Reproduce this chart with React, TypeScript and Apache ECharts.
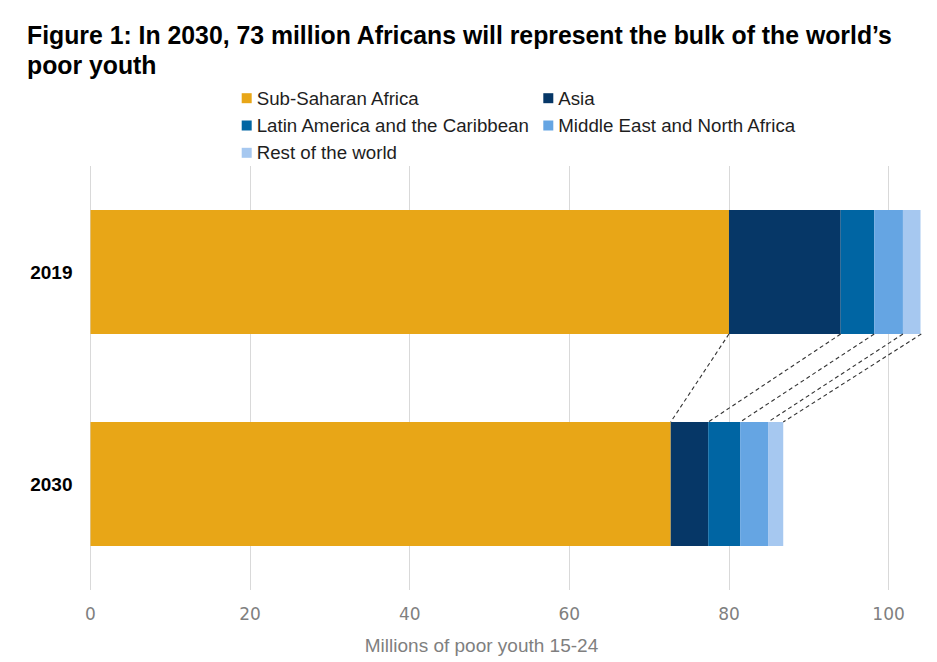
import React, { useEffect, useRef } from "react";
import * as echarts from "echarts";

const categories = ["2019", "2030"];
const seriesNames = [
  "Sub-Saharan Africa",
  "Asia",
  "Latin America and the Caribbean",
  "Middle East and North Africa",
  "Rest of the world",
];
const subSaharanAfrica = [80.0, 72.7];
const asia = [14.0, 4.7];
const latinAmerica = [4.2, 4.0];
const middleEast = [3.6, 3.5];
const restOfWorld = [2.3, 1.9];
const xTicks = [0, 20, 40, 60, 80, 100];
const colors = ["#E8A617", "#063767", "#0065A3", "#65A5E3", "#A6C8F0"];

const titleLines = [
  "Figure 1: In 2030, 73 million Africans will represent the bulk of the world\u2019s",
  "poor youth",
];
const axisTitle = "Millions of poor youth 15-24";

const BAR_H = 124;
const SANS = "'Liberation Sans', Arial, sans-serif";
const TITLE_FONT = `bold 26.5px ${SANS}`;

function measure(text: string, font: string): number {
  const c = document.createElement("canvas");
  const ctx = c.getContext("2d");
  if (!ctx) return text.length * 13;
  ctx.font = font;
  return ctx.measureText(text).width;
}

export default function App() {
  const ref = useRef<HTMLDivElement>(null);
  useEffect(() => {
    if (!ref.current) return;
    const chart = echarts.init(ref.current, null, { renderer: "svg" });
    const all = [subSaharanAfrica, asia, latinAmerica, middleEast, restOfWorld];
    const connectors: number[][] = [];
    let c0 = 0;
    let c1 = 0;
    all.forEach((arr) => {
      c0 += arr[0];
      c1 += arr[1];
      connectors.push([c0, c1, 0]);
    });

    const w = measure(titleLines[0], TITLE_FONT);
    const sx = Math.min(1, 866 / w);

    const legendText = { fontFamily: SANS, fontSize: 18.7, color: "#1e1e1e", lineHeight: 16 };

    chart.setOption({
      animation: false,
      backgroundColor: "#ffffff",
      legend: [
        {
          left: 241.7,
          top: 88.7,
          padding: 0,
          orient: "vertical",
          data: [seriesNames[0], seriesNames[2], seriesNames[4]],
          icon: "rect",
          itemWidth: 10,
          itemHeight: 10,
          itemGap: 8.3,
          textStyle: legendText,
        },
        {
          left: 543.3,
          top: 88.7,
          padding: 0,
          orient: "vertical",
          data: [seriesNames[1], seriesNames[3]],
          icon: "rect",
          itemWidth: 10,
          itemHeight: 10,
          itemGap: 8.3,
          textStyle: legendText,
        },
      ],
      grid: { left: 90.5, right: 16.5, top: 166, bottom: 72, containLabel: false },
      xAxis: {
        type: "value",
        min: 0,
        max: 104,
        interval: 20,
        axisLine: { show: false },
        axisTick: { show: false },
        splitLine: { show: false },
        axisLabel: {
          showMaxLabel: false,
          margin: 15,
          fontFamily: "'DejaVu Sans', sans-serif",
          fontSize: 17,
          color: "#7f7f7f",
        },
      },
      yAxis: {
        type: "category",
        data: categories,
        inverse: true,
        axisLine: { show: false },
        axisTick: { show: false },
        axisLabel: {
          margin: 18,
          fontFamily: SANS,
          fontWeight: "bold",
          fontSize: 19,
          color: "#000000",
        },
      },
      graphic: [
        {
          type: "text",
          x: 27,
          y: 20,
          scaleX: sx,
          style: {
            text: titleLines.join("\n"),
            font: TITLE_FONT,
            lineHeight: 30,
            fill: "#000000",
            textVerticalAlign: "top",
          },
        },
        {
          type: "text",
          x: 481.5,
          y: 645.5,
          style: {
            text: axisTitle,
            font: `19px ${SANS}`,
            fill: "#7f7f7f",
            textAlign: "center",
            textVerticalAlign: "middle",
          },
        },
      ],
      series: [
        {
          type: "line",
          name: "grid",
          data: [],
          z: 1,
          silent: true,
          markLine: {
            z: 1,
            silent: true,
            symbol: ["none", "none"],
            label: { show: false },
            lineStyle: { color: "#d9d9d9", type: "solid", width: 1 },
            data: xTicks.map((v) => ({ xAxis: v })),
          },
        },
        ...all.map((arr, i) => ({
          type: "bar",
          name: seriesNames[i],
          stack: "total",
          data: arr,
          barWidth: BAR_H,
          z: 2,
          itemStyle: { color: colors[i] },
        })),
        {
          type: "custom",
          name: "connectors",
          z: 3,
          silent: true,
          encode: { x: [0, 1], y: 2 },
          data: connectors,
          renderItem: (params: any, api: any) => {
            const p1 = api.coord([api.value(0), 0]);
            const p2 = api.coord([api.value(1), 1]);
            return {
              type: "line",
              shape: {
                x1: p1[0],
                y1: p1[1] + BAR_H / 2,
                x2: p2[0],
                y2: p2[1] - BAR_H / 2,
              },
              style: { stroke: "#333333", lineDash: [4, 3], lineWidth: 1.1, fill: null },
            };
          },
        },
      ],
    });
    return () => chart.dispose();
  }, []);
  return (
    <div
      ref={ref}
      style={{ position: "absolute", left: 0, top: 0, width: 937, height: 662 }}
    />
  );
}
